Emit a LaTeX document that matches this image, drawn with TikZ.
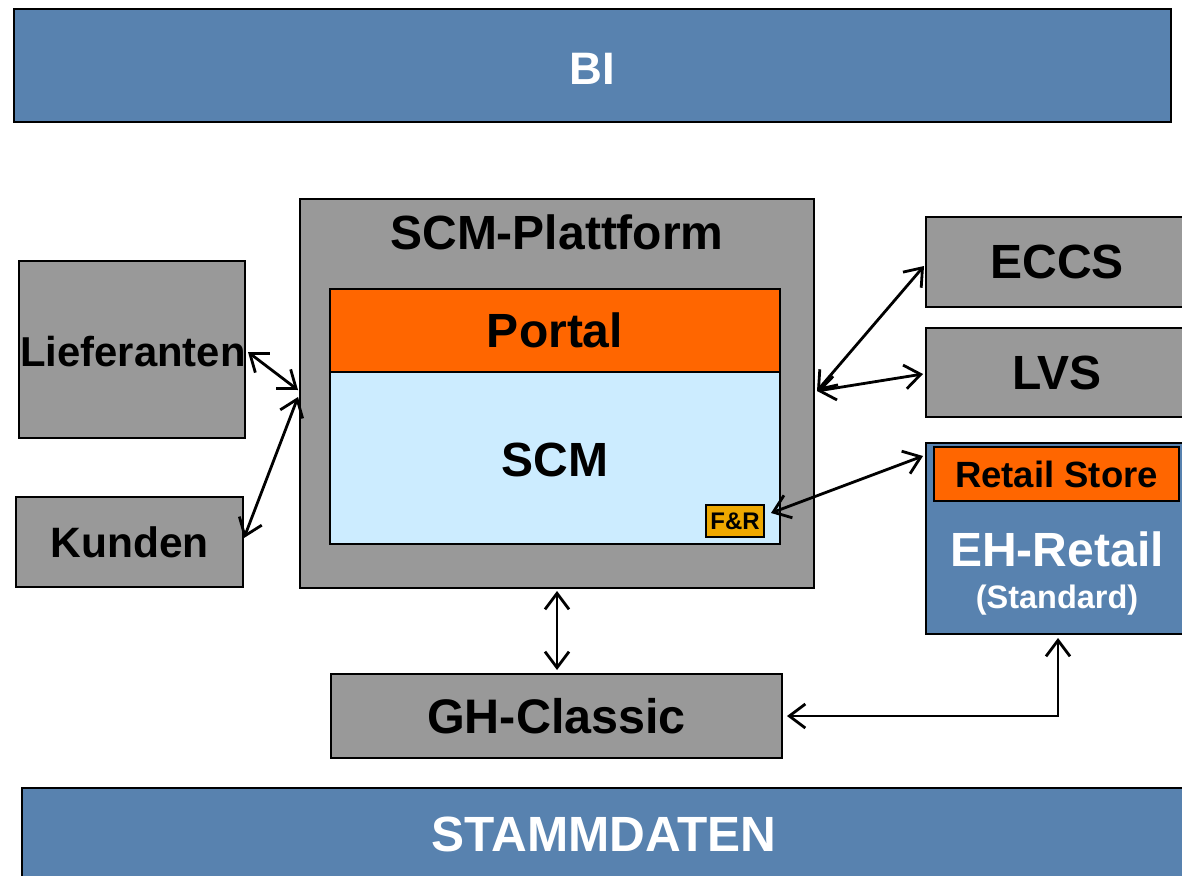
\documentclass[tikz,border=0pt]{standalone}
\usepackage{fontspec}
\setmainfont{Liberation Sans}
\usetikzlibrary{arrows.meta}
\definecolor{biblue}{HTML}{5882AF}
\definecolor{boxgray}{HTML}{999999}
\definecolor{porange}{HTML}{FF6600}
\definecolor{scmblue}{HTML}{CCECFF}
\definecolor{frgold}{HTML}{EEA800}
\tikzset{
  box/.style={draw=black, line width=2.2pt, inner sep=0pt, outer sep=0pt, anchor=north west, font=\bfseries\fontsize{48}{50}\selectfont},
  graybox/.style={box, fill=boxgray},
  bluebox/.style={box, fill=biblue, text=white},
  lbl/.style={inner sep=0pt, font=\bfseries\fontsize{48}{50}\selectfont},
  conn/.style={line width=2.8pt, {Straight Barb[length=16pt,width=24pt]}-{Straight Barb[length=16pt,width=24pt]}}
}
\begin{document}
\begin{tikzpicture}[x=1pt,y=-1pt]
\useasboundingbox (0,0) rectangle (1182,875);
\clip (0,0) rectangle (1182,875);
\fill[white] (0,0) rectangle (1182,875);
% bars
\node[bluebox, minimum width=1157pt, minimum height=113pt] (bi) at (14,9) {};
\node[lbl, text=white, font=\bfseries\fontsize{45.5}{48}\selectfont] (bit) at (592,69) {BI};
\node[bluebox, minimum width=1164pt, minimum height=100pt] (stamm) at (22,788) {};
\node[lbl, text=white, font=\bfseries\fontsize{49.5}{52}\selectfont] (stammt) at (604,834) {STAMMDATEN};
% SCM platform
\node[graybox, minimum width=514pt, minimum height=389pt] (plat) at (300,199) {};
\node[lbl] (platt) at (557,232) {SCM-Plattform};
\node[box, fill=porange, minimum width=450pt, minimum height=83pt] (portal) at (330,289) {Portal};
\node[box, fill=scmblue, minimum width=450pt, minimum height=172pt] (scm) at (330,372) {};
\node[lbl] (scmt) at (555,460) {SCM};
\node[box, fill=frgold, line width=1.8pt, minimum width=58pt, minimum height=32pt, font=\bfseries\fontsize{24}{26}\selectfont] (fr) at (706,505) {F\&R};
% left
\node[graybox, minimum width=226pt, minimum height=177pt] (lief) at (19,261) {};
\node[lbl, font=\bfseries\fontsize{41.8}{45}\selectfont] (lieft) at (133,352) {Lieferanten};
\node[graybox, minimum width=227pt, minimum height=90pt, font=\bfseries\fontsize{42.5}{45}\selectfont] (kund) at (16,497) {Kunden};
% right
\node[graybox, minimum width=262pt, minimum height=90pt] (eccs) at (926,217) {ECCS};
\node[graybox, minimum width=262pt, minimum height=89pt] (lvs) at (926,328) {LVS};
\node[bluebox, minimum width=262pt, minimum height=191pt] (eh) at (926,443) {};
\node[box, fill=porange, minimum width=245pt, minimum height=54pt, font=\bfseries\fontsize{36.5}{39}\selectfont] (store) at (934,447) {Retail Store};
\node[lbl, text=white] (eht) at (1057,549) {EH-Retail};
\node[lbl, text=white, font=\bfseries\fontsize{32.5}{35}\selectfont] (std) at (1057,600) {(Standard)};
% bottom
\node[graybox, minimum width=451pt, minimum height=84pt, font=\bfseries\fontsize{48.5}{50}\selectfont] (gh) at (331,674) {GH-Classic};
% connection points on platform
\coordinate (pL1) at (298,390);
\coordinate (pL2) at (298,397);
\coordinate (pR) at (817,391);
% connectors
\draw[conn] ([xshift=3pt,yshift=-2.5pt]lief.east) -- (pL1);
\draw[conn] ([xshift=1pt,yshift=4pt]kund.east) -- (pL2);
\draw[conn] (pR) -- ([xshift=-2pt,yshift=-4pt]eccs.west);
\draw[conn] (pR) -- ([xshift=-3pt,yshift=-1.5pt]lvs.west);
\draw[conn] ([xshift=7pt,yshift=8pt]fr.east) -- ([xshift=-3pt,yshift=-13pt]eh.north west);
\draw[conn] ([yshift=-3pt]plat.south) -- ([xshift=0.5pt,yshift=4pt]gh.north);
\draw[conn] ([xshift=5pt]gh.east) -| ([xshift=1pt,yshift=-4pt]eh.south);
\end{tikzpicture}
\end{document}
